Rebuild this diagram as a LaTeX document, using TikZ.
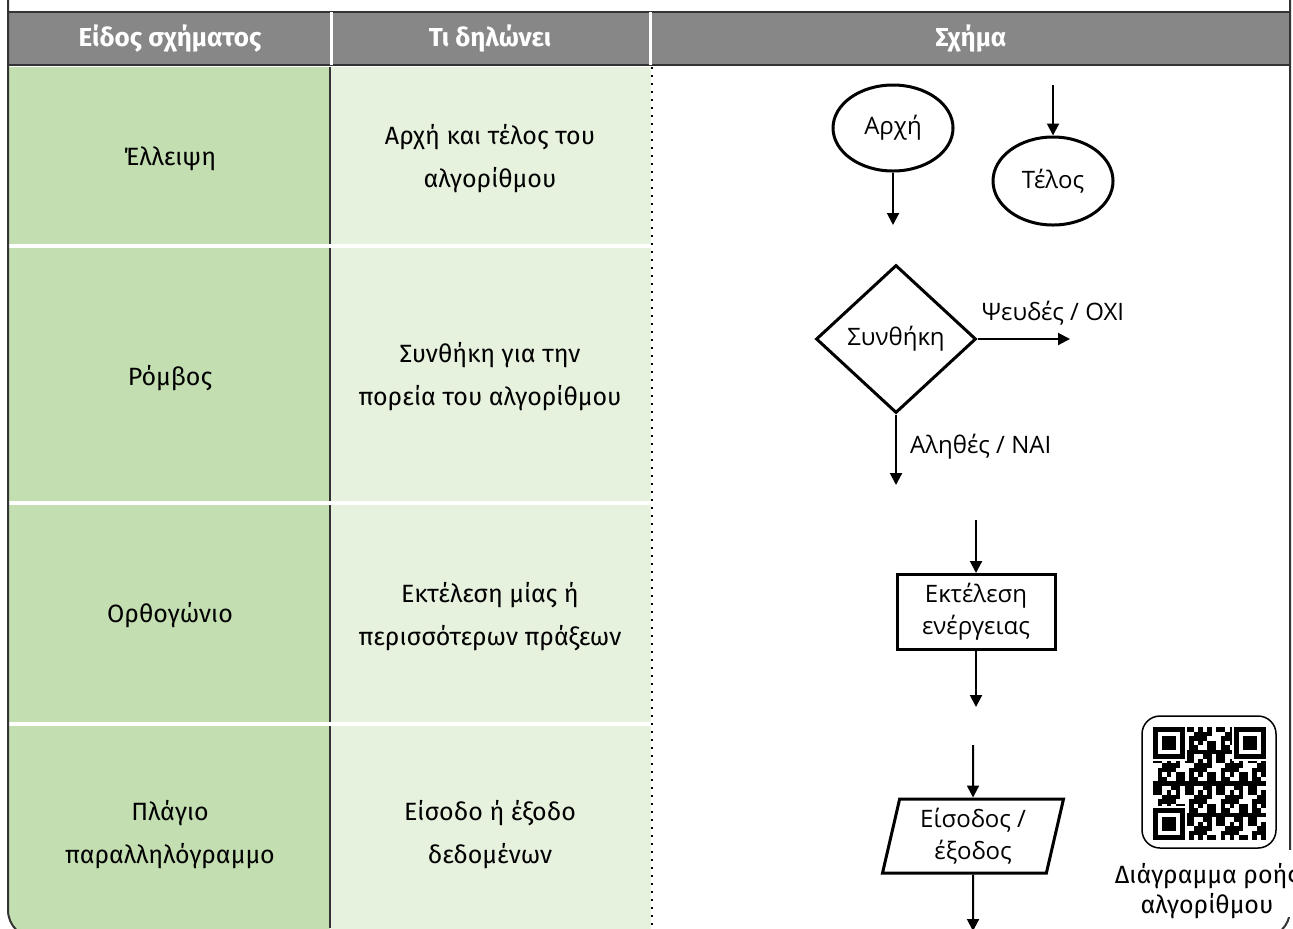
\documentclass[tikz,border=0pt]{standalone}
\usepackage{fontspec}
\setmainfont{Fira Sans}
\newfontfamily\shapefont{Open Sans}
\usetikzlibrary{shapes.geometric,arrows.meta,positioning}

\definecolor{headgray}{HTML}{878787}
\definecolor{kindgreen}{HTML}{C3DEB0}
\definecolor{meangreen}{HTML}{E6F1DE}
\definecolor{framegray}{HTML}{333333}

\tikzset{
  celltext/.style={font=\fontsize{12.5}{21.5}\selectfont, align=center},
  headtext/.style={font=\bfseries\fontsize{13}{15}\selectfont, text=white},
  shapebox/.style={draw, line width=1.5pt, inner sep=0pt, align=center,
    font=\shapefont\fontsize{12}{16}\selectfont},
  flowarrow/.style={line width=1pt, -{Triangle[length=6pt,width=6pt]}},
  flowlabel/.style={font=\shapefont\fontsize{12}{16}\selectfont}
}

\begin{document}
\begin{tikzpicture}[x=0.5pt,y=-0.5pt]
    \useasboundingbox (0,0) rectangle (1293,928);

    % Header of the table
    \fill[headgray] (8,12) rectangle (1290,65);
    \draw[framegray, line width=0.8pt] (8,12) -- (1290,12);
    \draw[framegray, line width=0.8pt] (8,65) -- (1290,65);
    \fill[white] (330,12) rectangle (333,65);
    \fill[white] (649,12) rectangle (652,65);

    % Rows of the table
    \foreach \top/\bot in {67/244, 248/501, 505/722} {
        \fill[kindgreen] (8,\top) rectangle (330,\bot);
        \fill[meangreen] (331,\top) rectangle (651,\bot);
        \draw[framegray, line width=0.8pt] (330,\top) -- (330,\bot);
    }
    \fill[kindgreen] (330,726) -- (8,726) [rounded corners=14pt] -- (8,938) [sharp corners] -- (330,938) -- cycle;
    \fill[meangreen] (331,726) rectangle (651,938);
    \draw[framegray, line width=0.8pt] (330,726) -- (330,928);

    % Dotted line and outer frame
    \draw[line width=1.2pt, dash pattern=on 1.2pt off 2.8pt] (652,67) -- (652,928);
    \draw[framegray, line width=1pt] (8,0) [rounded corners=14pt] -- (8,938) -- (200,938);
    \draw[framegray, line width=1pt] (1290,0) [rounded corners=14pt] -- (1290,938) -- (1150,938);

    % Header labels
    \node[headtext] (headkind) at (170,39) {Είδος σχήματος};
    \node[headtext] (headmean) at (490,39) {Τι δηλώνει};
    \node[headtext] (headshape) at (971,39) {Σχήμα};

    % Cell texts
    \node[celltext] (kindA) at (170,159) {Έλλειψη};
    \node[celltext] (meanA) at (490,159) {Αρχή και τέλος του\\αλγορίθμου};
    \node[celltext] (kindB) at (170,378) {Ρόμβος};
    \node[celltext] (meanB) at (490,377) {Συνθήκη για την\\πορεία του αλγορίθμου};
    \node[celltext] (kindC) at (170,615) {Ορθογώνιο};
    \node[celltext] (meanC) at (490,617) {Εκτέλεση μίας ή\\περισσότερων πράξεων};
    \node[celltext] (kindD) at (170,835) {Πλάγιο\\παραλληλόγραμμο};
    \node[celltext] (meanD) at (490,835) {Είσοδο ή έξοδο\\δεδομένων};

    % Ellipses
    \node[shapebox, ellipse, minimum width=60pt, minimum height=43pt] (start) at (893,128) {Αρχή};
    \coordinate (startout) at (893,225);
    \draw[flowarrow] (start) -- (startout);
    \node[shapebox, ellipse, minimum width=60pt, minimum height=44pt] (end) at (1053,181) {Τέλος};
    \coordinate (endin) at (1053,85);
    \draw[flowarrow] (endin) -- (end);

    % Diamond
    \node[shapebox, diamond, minimum width=80pt, minimum height=74pt] (cond) at (896,339) {Συνθήκη};
    \coordinate (falseout) at (1070,339);
    \coordinate (trueout) at (896,485);
    \draw[flowarrow] (cond.east) -- (falseout);
    \draw[flowarrow] (cond.south) -- (trueout);
    \node[flowlabel] (falselabel) at (1053,313) {Ψευδές / ΟΧΙ};
    \node[flowlabel, right] (truelabel) at (903,447) {Αληθές / ΝΑΙ};

    % Rectangle
    \node[shapebox, rectangle, minimum width=79pt, minimum height=37.5pt] (action) at (976,612) {Εκτέλεση\\ενέργειας};
    \coordinate (actionin) at (976,520);
    \coordinate (actionout) at (976,707);
    \draw[flowarrow] (actionin) -- (action);
    \draw[flowarrow] (action) -- (actionout);

    % Parallelogram
    \node[shapebox, trapezium, trapezium left angle=73, trapezium right angle=107,
          trapezium stretches body, minimum width=90.5pt, minimum height=37pt] (inout) at (973,836) {Είσοδος /\\έξοδος};
    \coordinate (inoutin) at (973,745);
    \coordinate (inoutout) at (973,931);
    \draw[flowarrow] (inoutin) -- (inout);
    \draw[flowarrow] (inout) -- (inoutout);

    % QR code
    \draw[line width=0.75pt, rounded corners=9pt] (1142,716) rectangle (1276,848);
    \foreach \i in {0,...,24} {
        \foreach \j in {0,...,24} {
            \pgfmathtruncatemacro\qv{mod(\i*\i*7+\j*\j*11+\i*\j*5+\i*3+\j,7)}
            \ifnum\qv<4
                \fill (1153+\i*4.5,727+\j*4.5) rectangle ++(4.5,4.5);
            \fi
        }
    }
    \foreach \fx/\fy in {0/0, 18/0, 0/18} {
        \fill[white] (1153+\fx*4.5-2,727+\fy*4.5-2) rectangle ++(35.5,35.5);
        \fill (1153+\fx*4.5,727+\fy*4.5) rectangle ++(31.5,31.5);
        \fill[white] (1153+\fx*4.5+4.5,727+\fy*4.5+4.5) rectangle ++(22.5,22.5);
        \fill (1153+\fx*4.5+9,727+\fy*4.5+9) rectangle ++(13.5,13.5);
    }
    \fill[white] (1105,850) rectangle (1293,917);
    \node[celltext, font=\fontsize{12.5}{15}\selectfont] (qrcaption) at (1207,891) {Διάγραμμα ροής\\αλγορίθμου};

\end{tikzpicture}
\end{document}
